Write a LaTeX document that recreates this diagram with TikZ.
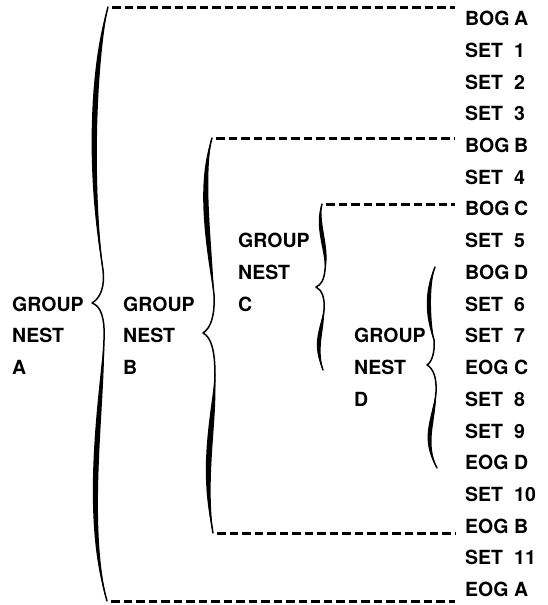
\documentclass[tikz,border=0pt]{standalone}
\usepackage{fontspec}
\setmainfont{TeX Gyre Heros}
% second column of the right-hand list starts at a fixed offset
\newcommand\tok[1]{\makebox[49pt][l]{#1}}
% thickened middle of a brace stroke: a lens between two shifted curves
\newcommand\brlens[7]{%
  \fill #1 .. controls ({#2-#7},#3) and ({#4-#7},#5) .. #6
           .. controls ({#4+#7},#5) and ({#2+#7},#3) .. #1;}
\begin{document}
\begin{tikzpicture}[x=1pt,y=-1pt,
  lbl/.style={anchor=west,inner xsep=10pt,inner ysep=0pt,
              font=\fontsize{19.5}{21}\selectfont\bfseries},
  grp/.style={anchor=west,inner sep=0pt,
              font=\fontsize{19.5}{21}\selectfont\bfseries},
  dashline/.style={line width=3pt,dash pattern=on 8.5pt off 4pt},
  bracepen/.style={line width=1.5pt,line cap=round,line join=round}]
\useasboundingbox (0,0) rectangle (547,605);

% ---- statement list ----
\node[lbl] (bogA)  at (455,18.5)  {\tok{BOG}A};
\node[lbl] (set1)  at (455,50.2)  {\tok{SET}1};
\node[lbl] (set2)  at (455,81.9)  {\tok{SET}2};
\node[lbl] (set3)  at (455,113.7) {\tok{SET}3};
\node[lbl] (bogB)  at (455,145.4) {\tok{BOG}B};
\node[lbl] (set4)  at (455,177.1) {\tok{SET}4};
\node[lbl] (bogC)  at (455,208.8) {\tok{BOG}C};
\node[lbl] (set5)  at (455,240.5) {\tok{SET}5};
\node[lbl] (bogD)  at (455,272.3) {\tok{BOG}D};
\node[lbl] (set6)  at (455,304.0) {\tok{SET}6};
\node[lbl] (set7)  at (455,335.7) {\tok{SET}7};
\node[lbl] (eogC)  at (455,367.4) {\tok{EOG}C};
\node[lbl] (set8)  at (455,399.1) {\tok{SET}8};
\node[lbl] (set9)  at (455,430.9) {\tok{SET}9};
\node[lbl] (eogD)  at (455,462.6) {\tok{EOG}D};
\node[lbl] (set10) at (455,494.3) {\tok{SET}10};
\node[lbl] (eogB)  at (455,526.0) {\tok{EOG}B};
\node[lbl] (set11) at (455,557.7) {\tok{SET}11};
\node[lbl] (eogA)  at (455,589.5) {\tok{EOG}A};

% ---- group nest labels ----
\node[grp] (gA1) at (12,304.0) {GROUP};
\node[grp] (gA2) at (12,335.7) {NEST};
\node[grp] (gA3) at (12,367.4) {A};
\node[grp] (gB1) at (123,304.0) {GROUP};
\node[grp] (gB2) at (123,335.7) {NEST};
\node[grp] (gB3) at (123,367.4) {B};
\node[grp] (gC1) at (238,240.5) {GROUP};
\node[grp] (gC2) at (238,272.3) {NEST};
\node[grp] (gC3) at (238,304.0) {C};
\node[grp] (gD1) at (354,335.7) {GROUP};
\node[grp] (gD2) at (354,367.4) {NEST};
\node[grp] (gD3) at (354,399.1) {D};

% ---- brace ends ----
\coordinate (aT) at (108,7);   \coordinate (aTip) at (92,303);  \coordinate (aB) at (107,601);
\coordinate (bT) at (212,138); \coordinate (bTip) at (203,333); \coordinate (bB) at (213,533);
\coordinate (cT) at (322,204); \coordinate (cTip) at (316,287); \coordinate (cB) at (323,370);
\coordinate (dT) at (435,267); \coordinate (dTip) at (427,365); \coordinate (dB) at (437,468);

% ---- braces ----
\draw[bracepen] (aT) .. controls (94,60) and (88,170) .. (103,270)
  .. controls (105,285) and (101,298) .. (aTip)
  .. controls (101,306) and (105,318) .. (104,340)
  .. controls (102,400) and (84,520) .. (aB);
\brlens{(aT)}{94}{60}{88}{170}{(103,270)}{3.6}
\brlens{(104,340)}{102}{400}{84}{520}{(aB)}{3.6}

\draw[bracepen] (bT) .. controls (200,180) and (208,240) .. (214,295)
  .. controls (215,315) and (211,328) .. (bTip)
  .. controls (211,337) and (215,350) .. (215,375)
  .. controls (214,420) and (202,470) .. (bB);
\brlens{(bT)}{200}{180}{208}{240}{(214,295)}{3.6}
\brlens{(215,375)}{214}{420}{202}{470}{(bB)}{3.8}

\draw[bracepen] (cT) .. controls (316,225) and (328,250) .. (325,270)
  .. controls (324,280) and (321,285) .. (cTip)
  .. controls (322,290) and (325,298) .. (324,310)
  .. controls (322,330) and (314,345) .. (cB);
\brlens{(cT)}{316}{225}{328}{250}{(325,270)}{2.8}
\brlens{(324,310)}{322}{330}{314}{345}{(cB)}{2.8}

\draw[bracepen] (dT) .. controls (426,290) and (428,320) .. (434,340)
  .. controls (435,352) and (432,362) .. (dTip)
  .. controls (433,368) and (437,378) .. (436,392)
  .. controls (434,420) and (422,440) .. (dB);
\brlens{(dT)}{426}{290}{428}{320}{(434,340)}{2.8}
\brlens{(436,392)}{434}{420}{422}{440}{(dB)}{2.8}

% ---- dashed leaders from brace ends to the list ----
\draw[dashline] ([xshift=4pt]aT) -- (aT -| bogA.west);
\draw[dashline] ([xshift=4pt]aB) -- (aB -| eogA.west);
\draw[dashline] ([xshift=4pt]bT) -- (bT -| bogB.west);
\draw[dashline] ([xshift=4pt]bB) -- (bB -| eogB.west);
\draw[dashline] ([xshift=4pt]cT) -- (cT -| bogC.west);
\end{tikzpicture}
\end{document}
